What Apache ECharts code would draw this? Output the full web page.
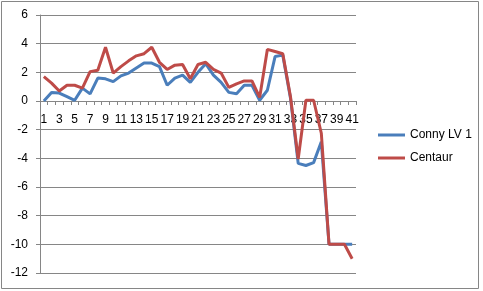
<!DOCTYPE html>
<html>
<head>
<meta charset="utf-8">
<script src="https://cdn.jsdelivr.net/npm/echarts@6/dist/echarts.min.js"></script>
<style>html,body{margin:0;padding:0;background:#fff;}#c{width:483px;height:291px;}</style>
</head>
<body>
<div id="c"></div>
<script>
var categories = [];
for (var i = 1; i <= 41; i++) categories.push(String(i));
var connyLV1 = [0, 0.6, 0.55, 0.3, 0.05, 0.9, 0.5, 1.6, 1.55, 1.35,
  1.75, 1.95, 2.3, 2.65, 2.65, 2.4, 1.1, 1.6, 1.8, 1.3,
  2.0, 2.6, 1.8, 1.3, 0.6, 0.5, 1.1, 1.1, 0.05, 0.75,
  3.1, 3.2, 0.2, -4.35, -4.5, -4.3, -2.85, -10, -10, -10, -10];
var centaur = [1.7, 1.25, 0.7, 1.1, 1.1, 0.9, 2.05, 2.15, 3.75, 1.95,
  2.4, 2.8, 3.15, 3.3, 3.75, 2.7, 2.2, 2.5, 2.55, 1.55,
  2.55, 2.7, 2.2, 1.95, 0.95, 1.2, 1.4, 1.4, 0.25, 3.6,
  3.45, 3.3, 0.3, -4.05, 0.05, 0.05, -2.25, -10, -10, -10, -11];
var seriesNames = ['Conny LV 1', 'Centaur'];
var yMin = -12, yMax = 6, yStep = 2;

var chart = echarts.init(document.getElementById('c'), null, {renderer: 'canvas'});
var font = '"Liberation Sans", Arial, sans-serif';
var gTop = 15, gBottom = 18, H = 291;
var plotH = H - gTop - gBottom;
var zeroBottom = H - (gTop + plotH * (yMax / (yMax - yMin)));
chart.setOption({
  animation: false,
  backgroundColor: '#fff',
  graphic: [{
    type: 'rect', shape: {x: 1.5, y: 1.5, width: 477, height: 287},
    style: {fill: 'none', stroke: '#868686', lineWidth: 1}, silent: true, z: -1
  }],
  grid: [
    {left: 40, top: gTop, right: 127, bottom: gBottom, containLabel: false, outerBoundsMode: 'none'},
    {left: 40, top: gTop, right: 127, bottom: zeroBottom, containLabel: false, outerBoundsMode: 'none'}
  ],
  legend: {
    orient: 'vertical', left: 373, top: 124, itemWidth: 27, itemHeight: 3, itemGap: 11,
    icon: 'rect',
    textStyle: {fontFamily: font, fontSize: 12, color: '#000'},
    data: seriesNames
  },
  xAxis: [{
    type: 'category', data: categories, boundaryGap: true, gridIndex: 0,
    axisLine: {show: false},
    axisTick: {show: false},
    axisLabel: {show: false},
    splitLine: {show: false}
  }, {
    type: 'category', data: categories, boundaryGap: true, gridIndex: 1, position: 'bottom',
    axisLine: {show: true, onZero: false, lineStyle: {color: '#868686', width: 1}},
    axisTick: {show: true, alignWithLabel: false, interval: 0, length: 4, lineStyle: {color: '#868686'}},
    axisLabel: {interval: 1, margin: 13, fontFamily: font, fontSize: 12, color: '#000'},
    splitLine: {show: false}
  }],
  yAxis: [{
    type: 'value', min: yMin, max: yMax, interval: yStep, gridIndex: 0,
    axisLine: {show: true, lineStyle: {color: '#868686'}},
    axisTick: {show: true, length: 4, lineStyle: {color: '#868686'}},
    axisLabel: {margin: 12, fontFamily: font, fontSize: 12, color: '#000'},
    splitLine: {show: true, lineStyle: {color: '#868686', width: 1}}
  }, {
    type: 'value', min: 0, max: 1, gridIndex: 1, show: false
  }],
  series: [
    {name: seriesNames[0], type: 'line', data: connyLV1, symbol: 'none', xAxisIndex: 0, yAxisIndex: 0,
     lineStyle: {color: '#4a7ebb', width: 3}, itemStyle: {color: '#4a7ebb'}, z: 2},
    {name: seriesNames[1], type: 'line', data: centaur, symbol: 'none', xAxisIndex: 0, yAxisIndex: 0,
     lineStyle: {color: '#be4b48', width: 3}, itemStyle: {color: '#be4b48'}, z: 3}
  ]
});
</script>
</body>
</html>
